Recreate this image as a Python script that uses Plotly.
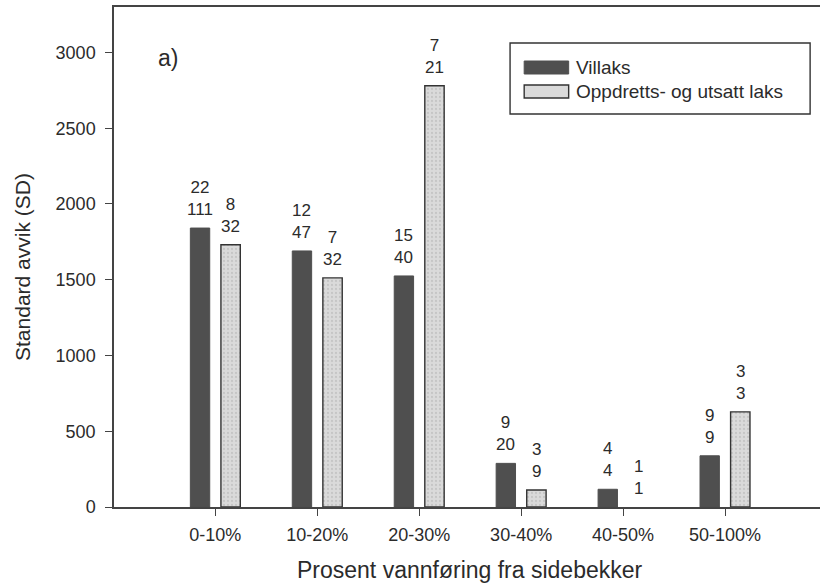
import plotly.graph_objects as go

categories = ["0-10%", "10-20%", "20-30%", "30-40%", "40-50%", "50-100%"]
series_names = ["Villaks", "Oppdretts- og utsatt laks"]
villaks_sd = [1841, 1690, 1525, 288, 117, 338]
oppdrett_sd = [1731, 1512, 2780, 112, 0, 628]
villaks_n_top = [22, 12, 15, 9, 4, 9]
villaks_n_bottom = [111, 47, 40, 20, 4, 9]
oppdrett_n_top = [8, 7, 7, 3, 1, 3]
oppdrett_n_bottom = [32, 32, 21, 9, 1, 3]
y_ticks = [0, 500, 1000, 1500, 2000, 2500, 3000]

FONT = "Liberation Sans, Arial, Helvetica, sans-serif"
TXT = "#2b2b2b"
DARK = "#4f4f4f"
LIGHT = "#dadada"
EDGE = "#333333"
BAR_W = 0.19
OFF = 0.15

fig = go.Figure()
fig.add_trace(go.Bar(
    x=list(range(len(categories))), y=villaks_sd, name=series_names[0],
    width=BAR_W, offset=-OFF - BAR_W / 2,
    marker=dict(color=DARK, line=dict(color=DARK, width=1)),
    showlegend=False,
))
fig.add_trace(go.Bar(
    x=list(range(len(categories))), y=oppdrett_sd, name=series_names[1],
    width=BAR_W, offset=OFF - BAR_W / 2,
    marker=dict(color=LIGHT,
                line=dict(color=EDGE, width=[1.4 if v > 0 else 0 for v in oppdrett_sd]),
                pattern=dict(shape=".", bgcolor=LIGHT, fgcolor="#b0b0b0",
                             size=4, solidity=0.25)),
    showlegend=False,
))

annotations = []
for i in range(len(categories)):
    annotations.append(dict(
        x=i - OFF, y=villaks_sd[i], xref="x", yref="y",
        text=f"{villaks_n_top[i]}<br>{villaks_n_bottom[i]}",
        showarrow=False, yanchor="bottom", xanchor="center", align="center",
        yshift=7, font=dict(family=FONT, size=17, color=TXT)))
    annotations.append(dict(
        x=i + OFF, y=oppdrett_sd[i], xref="x", yref="y",
        text=f"{oppdrett_n_top[i]}<br>{oppdrett_n_bottom[i]}",
        showarrow=False, yanchor="bottom", xanchor="center", align="center",
        yshift=7, font=dict(family=FONT, size=17, color=TXT)))

# panel label
annotations.append(dict(x=0.0765, y=0.898, xref="paper", yref="paper", text="a)",
                        showarrow=False, xanchor="center", yanchor="middle",
                        font=dict(family=FONT, size=23, color=TXT)))
# y title
annotations.append(dict(x=0, y=0.48, xref="paper", yref="paper", xshift=-92,
                        text="Standard avvik (SD)", textangle=-90, showarrow=False,
                        xanchor="center", yanchor="middle",
                        font=dict(family=FONT, size=21, color=TXT)))
# x title
annotations.append(dict(x=0.5, y=-0.126, xref="paper", yref="paper", xshift=3,
                        text="Prosent vannføring fra sidebekker", showarrow=False,
                        xanchor="center", yanchor="middle",
                        font=dict(family=FONT, size=23, color=TXT)))

# custom legend
shapes = [
    dict(type="rect", xref="paper", yref="paper", x0=0.561, x1=0.986, y0=0.786, y1=0.928,
         line=dict(color=EDGE, width=1.4), fillcolor="white", layer="below"),
    dict(type="rect", xref="paper", yref="paper", x0=0.581, x1=0.644, y0=0.866, y1=0.892,
         line=dict(color=DARK, width=1), fillcolor=DARK),
    dict(type="rect", xref="paper", yref="paper", x0=0.581, x1=0.644, y0=0.818, y1=0.844,
         line=dict(color=EDGE, width=1.4), fillcolor=LIGHT),
]
annotations.append(dict(x=0.6516, y=0.88, xref="paper", yref="paper", text=series_names[0],
                        showarrow=False, xanchor="left", yanchor="middle",
                        font=dict(family=FONT, size=19, color=TXT)))
annotations.append(dict(x=0.6516, y=0.832, xref="paper", yref="paper", text=series_names[1],
                        showarrow=False, xanchor="left", yanchor="middle",
                        font=dict(family=FONT, size=19, color=TXT)))

fig.update_layout(
    width=820, height=587,
    margin=dict(l=114, r=0, t=7, b=80),
    paper_bgcolor="white", plot_bgcolor="white",
    barmode="overlay",
    font=dict(family=FONT, size=18, color=TXT),
    annotations=annotations, shapes=shapes,
    xaxis=dict(
        range=[-0.994, 5.932], tickmode="array",
        tickvals=list(range(len(categories))), ticktext=categories,
        showline=True, linecolor="#444", linewidth=1.5, mirror=True,
        ticks="outside", ticklen=7, tickwidth=1.3, tickcolor="#444",
        showgrid=False, zeroline=False, ticklabelstandoff=4,
        tickfont=dict(family=FONT, size=18, color=TXT),
    ),
    yaxis=dict(
        range=[0, 3300], tickmode="array", tickvals=y_ticks,
        showline=True, linecolor="#444", linewidth=1.5, mirror=False,
        ticks="outside", ticklen=7, tickwidth=1.3, tickcolor="#444",
        showgrid=False, zeroline=False, ticklabelstandoff=6,
        tickfont=dict(family=FONT, size=18, color=TXT),
    ),
)

fig.write_html("out.html")
